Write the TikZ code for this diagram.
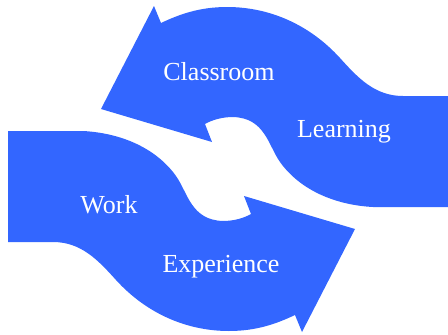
\documentclass[tikz,border=0pt]{standalone}
\usepackage{fontspec}
\setmainfont{Liberation Serif}
\usepackage{tikz}
\definecolor{cycleblue}{RGB}{51,102,255}

\begin{document}
\begin{tikzpicture}[
  x=1pt, y=-1pt,
  bigarrow/.style={fill=cycleblue, draw=none},
  lbl/.style={text=white, anchor=base, inner sep=0pt,
    font=\fontsize{26}{30}\selectfont}
]
  \useasboundingbox (0,0) rectangle (448,335);
  % one curved arrow, the other is the same turned half round
  \def\arrowpath{(448,96) -- (403,96)
    .. controls (375,96) and (358,78) .. (340,58)
    .. controls (310,25) and (270,7) .. (227,7)
    .. controls (200,7) and (180,14) .. (161,23)
    -- (154,6) -- (101,109) -- (212,142) -- (205,124)
    .. controls (212,120) and (222,117) .. (233,117)
    .. controls (265,118) and (268,145) .. (280,162)
    .. controls (300,190) and (335,205) .. (373,207)
    -- (448,207) -- cycle}
  \fill[bigarrow] \arrowpath;
  \begin{scope}[rotate around={180:(228,169)}]
    \fill[bigarrow] \arrowpath;
  \end{scope}

  \node[lbl] (classroom) at (219,80) {Classroom};
  \node[lbl] (learning) at (344,137) {Learning};
  \node[lbl] (work) at (109,213) {Work};
  \node[lbl] (experience) at (221,272) {Experience};
\end{tikzpicture}
\end{document}
